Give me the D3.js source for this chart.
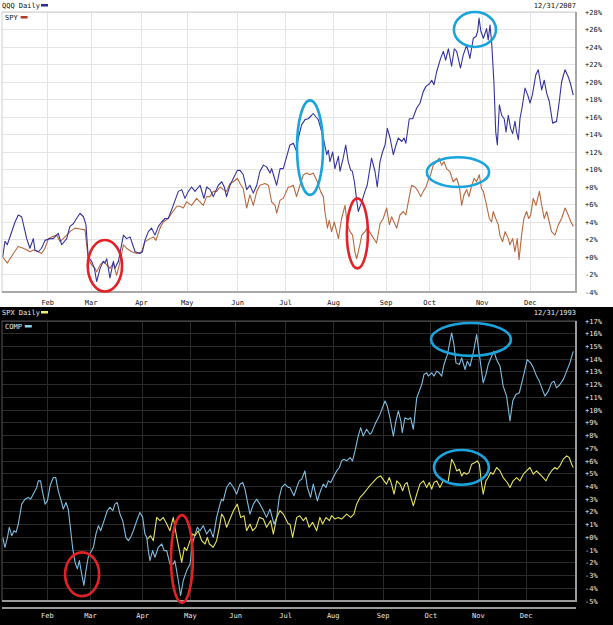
<!DOCTYPE html>
<html>
<head>
<meta charset="utf-8">
<script src="https://cdn.jsdelivr.net/npm/d3@7"></script>
<style>
  body { margin: 0; background: #fff; }
  svg text { font-family: "DejaVu Sans Mono", monospace; font-size: 7px; }
</style>
</head>
<body>
<div id="chart"></div>
<script>
// ---- data: [trading day of the year, % change since Jan 1] ----
const monthLabels = ["Feb", "Mar", "Apr", "May", "Jun", "Jul", "Aug", "Sep", "Oct", "Nov", "Dec"];
const monthStarts2007 = [20, 39, 61, 81, 103, 124, 145, 168, 187, 210, 231];
const monthStarts1993 = [20, 39, 62, 83, 103, 125, 146, 168, 189, 210, 231];
const tradingDays2007 = 251;
const tradingDays1993 = 253;

const ticks2007 = [28, 26, 24, 22, 20, 18, 16, 14, 12, 10, 8, 6, 4, 2, 0, -2, -4];
const ticks1993 = [17, 16, 15, 14, 13, 12, 11, 10, 9, 8, 7, 6, 5, 4, 3, 2, 1, 0, -1, -2, -3, -4, -5];

const qqq = [
  [0.3, 0.0], [1.3, 1.8], [2.3, 1.4], [5.7, 4.0], [7.1, 4.8], [8.6, 4.6], [10.1, 2.9], [10.8, 2.1],
  [12.2, 1.0], [13.7, 2.1], [14.4, 0.8], [15.9, 0.6], [17.3, 1.0], [18.8, 1.9], [21.0, 2.1], [22.4, 2.1],
  [24.6, 2.7], [26.1, 1.4], [28.3, 2.1], [29.7, 3.5], [31.2, 3.8], [32.6, 4.4], [34.1, 5.0], [35.6, 4.6],
  [36.7, 3.7], [37.7, 0.0], [39.2, -0.5], [40.4, -1.3], [41.4, -2.8], [42.9, -1.3], [44.3, -0.5], [45.0, -0.7],
  [45.8, -0.2], [47.2, -2.4], [48.7, -0.5], [49.4, -1.3], [50.1, -0.9], [50.9, -0.5], [53.1, 2.5], [54.5, 2.1],
  [56.0, 2.3], [58.2, 0.6], [60.3, 0.4], [61.4, 0.6], [62.5, 1.9], [64.0, 2.9], [65.4, 3.3], [66.9, 2.5],
  [68.4, 3.5], [69.8, 4.0], [71.3, 4.4], [72.7, 4.4], [74.9, 5.9], [77.1, 7.5], [78.6, 7.7], [80.0, 6.7],
  [81.5, 7.5], [82.9, 8.0], [84.4, 7.5], [86.6, 8.2], [88.3, 6.7], [89.5, 8.0], [91.0, 7.7], [92.4, 6.9],
  [94.6, 8.2], [96.1, 8.6], [97.2, 8.0], [98.2, 6.9], [99.7, 8.2], [101.2, 9.0], [102.9, 9.9], [104.1, 9.9],
  [105.5, 9.4], [107.0, 7.7], [108.4, 8.2], [109.9, 7.3], [111.4, 8.2], [112.8, 9.8], [114.3, 10.5], [115.7, 10.3],
  [117.2, 9.6], [117.9, 10.1], [119.4, 8.8], [120.1, 8.2], [121.6, 10.1], [123.0, 10.1], [124.5, 11.5],
  [125.9, 12.8], [127.4, 13.0], [128.6, 12.2], [129.6, 13.6], [131.0, 15.1], [132.5, 15.7], [133.9, 15.8],
  [135.4, 16.2], [136.1, 16.4], [137.3, 16.0], [138.3, 15.7], [139.8, 14.3], [140.5, 13.6], [142.0, 11.7],
  [142.7, 12.2], [143.4, 10.9], [144.6, 12.0], [145.6, 10.1], [147.1, 11.5], [147.8, 9.8], [149.2, 11.3],
  [150.3, 12.8], [151.4, 10.9], [152.5, 9.9], [153.2, 9.8], [154.1, 8.6], [155.1, 6.5], [155.8, 5.2],
  [157.3, 6.3], [158.7, 7.5], [159.7, 8.2], [161.6, 11.3], [163.1, 9.8], [164.1, 8.0], [165.3, 10.9],
  [166.4, 12.0], [167.5, 12.8], [168.5, 14.7], [169.7, 13.6], [171.1, 11.7], [172.3, 12.8], [173.3, 13.6],
  [174.8, 13.2], [175.8, 13.6], [176.6, 13.0], [178.1, 15.8], [179.6, 15.8], [181.3, 17.0], [182.8, 17.6],
  [184.2, 18.9], [185.4, 19.5], [186.9, 19.8], [187.9, 20.2], [188.9, 19.7], [190.1, 21.2], [191.8, 22.7],
  [193.0, 23.5], [194.0, 22.5], [195.2, 23.8], [196.6, 21.8], [197.8, 23.8], [198.8, 23.5], [200.5, 21.6],
  [201.7, 23.1], [203.2, 24.2], [204.6, 22.7], [206.1, 25.0], [207.3, 25.2], [208.0, 25.8], [208.6, 27.3],
  [209.4, 25.8], [210.5, 25.0], [211.9, 26.1], [212.6, 24.8], [213.4, 26.5], [213.8, 25.4], [214.1, 24.6],
  [215.1, 20.0], [215.9, 14.3], [216.6, 12.8], [217.5, 17.4], [218.5, 16.2], [219.6, 15.8], [220.4, 14.3],
  [221.4, 16.2], [222.4, 14.7], [223.3, 14.1], [224.3, 15.5], [225.0, 14.3], [225.8, 13.4], [226.5, 15.8],
  [227.5, 17.2], [228.7, 19.3], [229.9, 18.5], [230.9, 17.6], [231.9, 18.5], [233.4, 20.8], [234.5, 21.4],
  [236.0, 19.1], [237.1, 20.2], [238.2, 18.7], [239.3, 17.8], [240.8, 15.3], [242.5, 15.5], [243.7, 17.8],
  [244.7, 20.0], [246.2, 21.4], [247.6, 20.6], [248.6, 19.8], [249.8, 18.5]
];

const spy = [
  [0.3, 0.0], [2.3, -0.7], [3.5, -0.2], [5.0, 0.4], [7.1, 1.2], [9.3, 1.0], [10.8, 0.8], [12.2, 0.6],
  [13.7, 0.8], [15.9, 0.6], [17.3, 0.4], [18.8, 1.0], [20.3, 2.1], [21.7, 2.3], [23.9, 2.5], [25.4, 1.75],
  [26.8, 2.1], [28.3, 2.5], [29.7, 2.9], [31.9, 3.3], [34.1, 3.2], [36.3, 3.1], [37.7, -0.2], [39.2, -0.9],
  [40.7, -1.3], [41.4, -1.7], [42.9, -0.9], [44.3, -0.5], [45.8, -0.9], [47.2, -1.3], [48.7, -0.7], [50.1, -2.1],
  [51.3, -0.9], [53.1, 1.4], [54.5, 1.0], [56.7, 0.6], [58.9, 0.4], [61.1, 0.6], [62.5, 1.75], [64.7, 2.1],
  [66.2, 2.3], [67.3, 1.9], [69.1, 3.3], [70.5, 4.0], [72.7, 4.4], [74.2, 5.0], [76.4, 5.8], [77.8, 5.8],
  [79.3, 5.6], [80.7, 6.3], [82.9, 5.9], [85.1, 6.7], [88.0, 5.9], [89.5, 6.9], [90.9, 6.9], [92.4, 7.5],
  [93.9, 7.5], [95.3, 8.0], [96.8, 7.7], [98.2, 7.5], [99.7, 8.4], [101.2, 8.6], [102.9, 9.0], [104.1, 8.4],
  [105.5, 7.8], [107.0, 5.6], [108.4, 7.1], [109.9, 5.9], [111.4, 7.5], [112.8, 8.2], [115.0, 8.4], [116.5, 8.2],
  [117.9, 6.3], [119.4, 5.9], [120.1, 5.0], [121.6, 6.5], [123.0, 6.7], [125.2, 8.0],
  [125.9, 8.0], [127.4, 8.2], [128.8, 6.9], [130.3, 8.2], [131.8, 9.4], [133.2, 9.6], [134.7, 9.4], [136.1, 9.6],
  [137.9, 8.6], [139.3, 7.5], [140.5, 6.9], [141.2, 5.2], [142.3, 3.3], [143.1, 4.2], [144.1, 2.9], [145.3, 4.0],
  [147.1, 2.1], [148.5, 4.4], [150.0, 5.9], [151.0, 3.7], [152.2, 2.9], [153.3, 2.5], [154.3, 0.6], [155.1, -0.2],
  [156.5, 1.4], [157.3, 2.5], [158.7, 2.9], [159.7, 3.3], [161.6, 2.5], [163.8, 1.6], [165.3, 3.8], [166.7, 4.4],
  [168.2, 5.6], [169.4, 3.7], [170.4, 4.6], [171.4, 4.0], [172.6, 3.3], [174.0, 4.8], [175.5, 5.2], [176.6, 4.8],
  [178.1, 6.9], [179.1, 8.2], [180.6, 8.0], [182.0, 7.5], [183.1, 6.9], [184.2, 7.5], [185.4, 8.0], [186.4, 8.8],
  [187.4, 9.4], [188.6, 10.5], [190.1, 10.9], [191.2, 11.3], [192.2, 10.5], [193.3, 10.9], [194.4, 10.1],
  [195.9, 9.75], [197.3, 8.6], [198.8, 9.0], [200.0, 8.0], [201.0, 5.9], [202.0, 7.1], [203.2, 7.7], [204.2, 6.9],
  [205.4, 8.2], [206.5, 9.0], [207.5, 8.6], [208.7, 9.4], [209.7, 7.8], [210.5, 7.5], [211.9, 5.9], [213.1, 4.4],
  [214.1, 4.0], [214.8, 5.2], [215.9, 4.4], [217.0, 3.7], [217.7, 2.5], [218.9, 1.75], [220.0, 2.9], [221.4, 2.1],
  [222.1, 1.4], [223.3, 2.1], [224.3, 0.6], [225.3, 2.1], [226.1, -0.3], [227.2, 2.5], [228.2, 4.4], [229.4, 5.2],
  [230.3, 4.4], [231.2, 4.8], [232.3, 6.7], [233.5, 5.9], [235.0, 7.5], [236.0, 5.9], [237.1, 4.4], [238.2, 5.2],
  [239.3, 4.0], [240.3, 2.9], [241.8, 2.5], [243.3, 3.7], [244.7, 4.4], [246.2, 5.6], [247.6, 4.8], [248.8, 4.0],
  [249.8, 3.5]
];

const comp = [
  [0.3, 0.0], [1.3, -0.78], [2.4, 0.0], [3.2, 0.79], [4.3, 0.13], [5.3, 0.52], [6.2, 0.39], [7.2, 1.05],
  [8.7, 2.61], [10.1, 3.0], [11.6, 3.14], [12.6, 3.0], [13.8, 3.4], [15.3, 3.92], [16.0, 4.44], [17.0, 4.44],
  [17.9, 3.53], [19.0, 2.61], [20.0, 2.87], [21.2, 4.05], [22.6, 4.7], [23.7, 4.7], [24.8, 3.66], [26.3, 2.74],
  [27.0, 2.22], [28.2, 2.74], [29.2, 2.22], [30.3, 0.52], [31.1, -0.78], [32.2, -1.96], [33.2, -2.48], [34.1, -1.83],
  [35.1, -2.87], [36.1, -3.78], [37.0, -2.61], [38.0, -1.56], [39.1, -1.17], [40.3, -0.78], [41.4, 0.26], [42.5, 0.92],
  [43.5, 0.52], [45.0, 1.31], [46.4, 2.09], [47.6, 2.35], [48.8, 2.09], [49.8, 2.61], [50.8, 2.74], [52.0, 1.83],
  [53.2, 1.31], [54.6, 0.0], [55.7, -0.26], [56.7, 0.0], [57.9, 0.52], [59.4, 1.31], [60.8, 1.96], [62.0, 1.57],
  [63.0, 0.26], [63.8, 0.0], [64.5, -1.04], [65.2, -1.83], [66.4, -1.04], [67.4, -1.56], [68.9, -0.78], [70.4, -0.52],
  [71.5, -1.04], [72.6, -1.04], [74.0, -2.09], [75.5, -2.09], [76.2, -1.83], [77.7, -3.39], [78.7, -4.57], [79.9, -3.39],
  [81.4, -2.61], [82.9, -2.09], [83.9, -0.52], [85.1, 0.26], [86.1, 0.79], [87.3, 0.52], [88.7, 0.92], [90.2, 0.26],
  [91.7, 0.66], [93.1, 0.0], [94.6, 1.57], [96.1, 2.61], [96.8, 3.0], [97.5, 2.87], [99.0, 3.92], [100.5, 4.31],
  [102.0, 3.92], [103.4, 3.4], [104.9, 4.18], [106.1, 4.31], [107.1, 3.79], [108.1, 2.87], [109.3, 1.83], [110.8, 2.61],
  [112.2, 3.0], [113.7, 2.61], [115.2, 2.09], [116.6, 1.57], [118.1, 2.22], [119.9, 1.05], [121.1, 1.57], [122.2, 3.14],
  [123.3, 3.92], [124.7, 4.18], [126.2, 3.92],
  [126.9, 3.92], [128.7, 3.27], [129.9, 3.92], [131.0, 4.44], [132.1, 4.57], [133.5, 5.22], [134.6, 3.92], [136.0, 3.14],
  [137.2, 4.18], [139.0, 2.87], [140.4, 3.66], [141.6, 4.18], [142.8, 3.92], [143.8, 4.44], [144.9, 4.31], [146.0, 4.7],
  [147.5, 5.22], [148.7, 5.49], [149.7, 6.01], [150.7, 6.14], [151.9, 6.01], [153.4, 6.27], [154.5, 6.01], [155.6, 6.79],
  [157.0, 7.96], [158.1, 8.62], [159.2, 7.96], [160.7, 8.49], [162.2, 8.1], [162.9, 8.23], [164.4, 8.88], [166.6, 9.66],
  [168.8, 10.71], [169.8, 10.32], [171.0, 9.4], [172.5, 7.96], [173.6, 9.14], [174.7, 9.93], [175.8, 9.14], [176.4, 8.23],
  [177.6, 9.4], [179.1, 9.27], [180.1, 9.4], [181.3, 8.49], [182.8, 10.97], [183.9, 11.49], [185.0, 12.01], [186.0, 12.8],
  [187.2, 12.93], [187.9, 12.67], [189.4, 12.93], [190.4, 12.67], [191.6, 13.06], [192.7, 12.93], [193.8, 12.67],
  [194.8, 13.58], [196.3, 14.36], [198.2, 16.06], [199.2, 15.15], [200.1, 13.71], [201.6, 13.58], [202.6, 14.1],
  [204.1, 13.19], [205.1, 13.84], [206.3, 13.45], [207.7, 14.49], [209.2, 15.93], [210.4, 14.36], [212.1, 12.14],
  [213.3, 12.8], [214.3, 13.58], [215.8, 14.23], [216.8, 14.62], [218.0, 13.97], [219.5, 13.45], [220.9, 11.88],
  [222.4, 11.1], [223.9, 9.14], [225.1, 10.71], [226.5, 11.23], [228.0, 11.36], [229.5, 12.41], [231.5, 13.97],
  [233.0, 13.71], [234.2, 13.32], [235.6, 12.67], [236.8, 12.28], [239.3, 11.1], [240.8, 11.49], [242.2, 12.14],
  [243.3, 12.28], [244.4, 11.75], [245.9, 12.01], [247.4, 12.41], [248.9, 13.06], [250.3, 13.71], [251.8, 14.62]
];

const spx = [
  [64.1, -0.13], [65.5, 0.13], [66.7, -0.26], [68.2, 1.57], [69.6, 1.31], [71.1, 1.57], [72.6, 1.05], [74.0, 0.52],
  [75.5, 1.57], [77.0, 0.0], [78.2, -1.04], [79.2, -1.96], [80.4, -0.78], [81.4, -1.04], [82.6, -0.39], [84.0, 0.26],
  [85.1, 0.13], [86.5, 0.52], [88.0, -0.26], [89.5, -0.52], [90.5, 0.0], [91.4, -0.52], [93.1, -0.78], [94.6, -0.26],
  [95.8, 0.79], [96.8, 1.83], [97.8, 1.57], [99.0, 0.79], [100.5, 1.44], [102.0, 2.09], [103.7, 2.61], [105.2, 1.57],
  [106.7, 1.7], [107.8, 0.52], [109.3, 1.05], [110.5, 0.52], [111.9, 0.79], [113.4, 1.57], [115.2, 1.44], [116.6, 0.79],
  [118.4, 1.31], [119.6, 0.26], [121.1, 1.57], [122.5, 2.09], [124.0, 1.83], [126.2, 1.05],
  [126.9, 1.05], [128.1, 0.0], [129.9, 1.57], [131.3, 1.7], [132.8, 1.31], [134.0, 1.57], [135.4, 0.79], [136.9, 1.18],
  [138.7, 0.52], [140.1, 1.57], [141.3, 1.05], [142.8, 1.57], [144.3, 1.31], [145.3, 1.7], [146.8, 1.44], [148.2, 1.57],
  [149.7, 1.44], [151.9, 1.83], [153.7, 1.57], [155.1, 1.83], [156.3, 2.61], [157.8, 3.14], [159.2, 3.4], [161.5, 3.92],
  [163.4, 4.31], [165.4, 4.7], [166.9, 4.83], [168.4, 4.44], [169.5, 4.18], [170.7, 4.7], [171.7, 4.18], [172.8, 3.4],
  [174.0, 4.44], [175.4, 4.18], [176.6, 3.66], [177.6, 4.18], [178.6, 4.31], [179.8, 3.4], [181.3, 2.48], [182.8, 3.4],
  [184.2, 4.18], [185.7, 4.44], [187.2, 3.92], [188.3, 4.31], [189.4, 3.79], [190.4, 4.31], [191.6, 4.44], [193.0, 3.92],
  [194.5, 4.44], [196.0, 4.31], [196.7, 4.44], [198.2, 6.14], [199.4, 5.75], [200.4, 5.22], [201.6, 5.35], [202.6, 4.83],
  [203.6, 5.09], [204.8, 4.96], [205.8, 5.09], [207.0, 5.75], [208.5, 5.88], [209.5, 6.01], [210.4, 5.75], [211.4, 4.18],
  [212.1, 3.4], [213.3, 4.44], [214.3, 4.7], [215.4, 5.09], [216.5, 4.96], [218.0, 5.49], [219.5, 5.22], [220.9, 4.7],
  [222.7, 4.31], [223.9, 3.92], [225.3, 4.44], [226.8, 4.7], [228.3, 4.44], [229.8, 4.96], [231.2, 5.22], [232.7, 5.49],
  [234.2, 4.96], [235.6, 5.22], [237.1, 4.96], [239.8, 4.44], [240.8, 4.83], [242.2, 5.22], [243.7, 5.49], [244.7, 5.35],
  [245.9, 5.62], [247.4, 6.14], [248.9, 6.4], [250.0, 6.27], [251.1, 5.75], [251.8, 5.49]
];

// hand-drawn highlight ellipses: [centre day, centre %, half-width in days, half-height in %, colour]
const marks2007 = [
  [45.0, -1.0, 7.5, 2.95, "red"],
  [134.7, 12.5, 5.7, 5.4, "blue"],
  [155.4, 2.7, 4.6, 4.0, "red"],
  [199.4, 9.7, 13.6, 1.7, "blue"],
  [206.8, 26.0, 9.2, 2.0, "blue"]
];
const marks1993 = [
  [35.3, -2.9, 7.5, 1.72, "red"],
  [79.3, -1.7, 4.8, 3.45, "red"],
  [206.7, 15.55, 17.6, 1.29, "blue"],
  [202.5, 5.5, 12.1, 1.37, "blue"]
];
const markColors = { red: "#e32228", blue: "#1aa3dd" };

const W = 613, H = 625;
const svg = d3.select("#chart").append("svg")
  .attr("width", W)
  .attr("height", H);

function pct(v) {
  return (v >= 0 ? "+" : "") + v + "%";
}

function drawPanel(p) {
  // background
  svg.append("rect")
    .attr("x", 0).attr("y", p.top)
    .attr("width", W).attr("height", p.bottom - p.top)
    .attr("fill", p.bg);

  const x = d3.scaleLinear().domain([0, p.days]).range([2, 576]);
  const y = d3.scaleLinear().domain([p.ticks[p.ticks.length - 1], p.ticks[0]]).range([p.plotBottom, p.plotTop]);

  // grid
  svg.append("g").selectAll("line.h")
    .data(p.ticks)
    .enter().append("line")
    .attr("x1", x(0)).attr("x2", x(p.days))
    .attr("y1", d => y(d)).attr("y2", d => y(d))
    .attr("stroke", p.grid).attr("stroke-width", 1)
    .attr("shape-rendering", "crispEdges");

  svg.append("g").selectAll("line.v")
    .data(p.monthStarts)
    .enter().append("line")
    .attr("x1", d => x(d)).attr("x2", d => x(d))
    .attr("y1", y.range()[1]).attr("y2", y.range()[0])
    .attr("stroke", p.grid).attr("stroke-width", 1)
    .attr("shape-rendering", "crispEdges");

  // lines
  const line = d3.line().x(d => x(d[0])).y(d => y(d[1]));
  p.series.forEach(s => {
    svg.append("path")
      .datum(s.data)
      .attr("fill", "none")
      .attr("stroke", s.color)
      .attr("stroke-width", 1.1)
      .attr("stroke-linejoin", "round")
      .attr("d", line);
  });

  // frame
  svg.append("rect")
    .attr("x", x(0)).attr("y", y.range()[1])
    .attr("width", x(p.days) - x(0)).attr("height", y.range()[0] - y.range()[1])
    .attr("fill", "none").attr("stroke", p.frameLight).attr("stroke-width", 1);
  svg.append("path")
    .attr("d", `M${x(p.days)},${y.range()[1]}V${y.range()[0]}H${x(0)}`)
    .attr("fill", "none").attr("stroke", p.frame).attr("stroke-width", 2);
  if (p.extraBar) {
    svg.append("line")
      .attr("x1", x(0)).attr("x2", x(p.days))
      .attr("y1", p.extraBar).attr("y2", p.extraBar)
      .attr("stroke", p.frame).attr("stroke-width", 2);
  }

  // highlight ellipses
  svg.append("g").selectAll("ellipse")
    .data(p.marks)
    .enter().append("ellipse")
    .attr("cx", d => x(d[0]))
    .attr("cy", d => y(d[1]))
    .attr("rx", d => x(d[0] + d[2]) - x(d[0]))
    .attr("ry", d => y(d[1]) - y(d[1] + d[3]))
    .attr("fill", "none")
    .attr("stroke", d => markColors[d[4]])
    .attr("stroke-width", 2.6);

  // y labels
  svg.append("g").selectAll("text")
    .data(p.ticks)
    .enter().append("text")
    .attr("x", 585)
    .attr("y", d => y(d) + 2.5)
    .attr("fill", p.text)
    .text(d => pct(d));

  // month labels
  svg.append("g").selectAll("text")
    .data(p.monthStarts)
    .enter().append("text")
    .attr("x", d => x(d))
    .attr("y", p.monthY)
    .attr("text-anchor", "middle")
    .attr("fill", p.text)
    .text((d, i) => monthLabels[i]);

  // header and legends
  const head = p.top + 8;
  svg.append("text").attr("x", 2).attr("y", head).attr("fill", p.text).text(p.series[1].name + " Daily");
  svg.append("rect").attr("x", 41).attr("y", head - 4).attr("width", 7).attr("height", 2.5)
    .attr("fill", p.series[1].key);
  svg.append("text").attr("x", 576).attr("y", head).attr("text-anchor", "end")
    .attr("fill", p.text).text(p.date);

  const leg = y.range()[1] + 8;
  svg.append("text").attr("x", 5).attr("y", leg).attr("fill", p.text).text(p.series[0].name);
  svg.append("rect").attr("x", 5 + p.series[0].name.length * 4.2 + 3).attr("y", leg - 4)
    .attr("width", 7).attr("height", 2.5).attr("fill", p.series[0].key);
}

drawPanel({
  top: 0, bottom: 307, bg: "#ffffff",
  plotTop: 12, plotBottom: 292,
  days: tradingDays2007, monthStarts: monthStarts2007, ticks: ticks2007,
  grid: "#e4e4e4", frame: "#a8a8a8", frameLight: "#cfcfcf", text: "#111",
  monthY: 305, date: "12/31/2007",
  series: [
    { name: "SPY", data: spy, color: "#b8693f", key: "#b23a2a" },
    { name: "QQQ", data: qqq, color: "#35349c", key: "#2c2c96" }
  ],
  marks: marks2007
});

drawPanel({
  top: 307, bottom: 625, bg: "#000000",
  plotTop: 321, plotBottom: 601,
  days: tradingDays1993, monthStarts: monthStarts1993, ticks: ticks1993,
  grid: "#2b2b2b", frame: "#9a9a9a", frameLight: "#555", text: "#e8e8e8",
  monthY: 618, date: "12/31/1993", extraBar: 608,
  series: [
    { name: "COMP", data: comp, color: "#7fbde0", key: "#8fd0f0" },
    { name: "SPX", data: spx, color: "#e4e25e", key: "#f2f060" }
  ],
  marks: marks1993
});
</script>
</body>
</html>
